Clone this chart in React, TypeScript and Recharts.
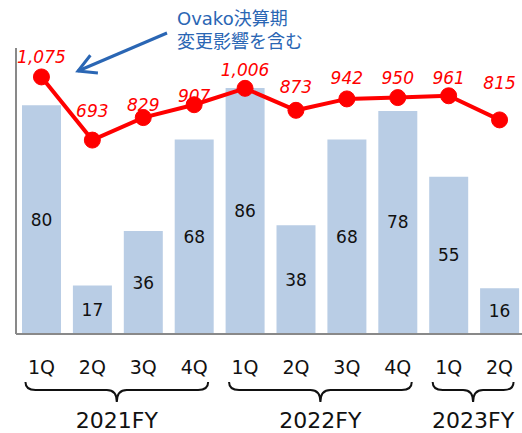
import React from "react";
import {
  ComposedChart,
  Bar,
  Line,
  XAxis,
  YAxis,
  LabelList,
  Customized,
} from "recharts";

const quarters = ["1Q", "2Q", "3Q", "4Q", "1Q", "2Q", "3Q", "4Q", "1Q", "2Q"];
const fiscalYears = [
  "2021FY", "2021FY", "2021FY", "2021FY",
  "2022FY", "2022FY", "2022FY", "2022FY",
  "2023FY", "2023FY",
];
const barValues = [80, 17, 36, 68, 86, 38, 68, 78, 55, 16];
const lineValues = [1075, 693, 829, 907, 1006, 873, 942, 950, 961, 815];

// how far above each dot its label sits (px), as placed in the original
const labelLift = [20, 29, 13, 9, 18, 23, 21, 20, 18, 37];

const data = quarters.map((q, i) => ({
  key: `${fiscalYears[i]}-${q}`,
  bar: barValues[i],
  line: lineValues[i],
}));

const W = 530;
const H = 433;
const MARGIN = { top: 48, right: 5, left: 14, bottom: 0 };
const Y_AXIS_W = 2;
const PLOT_W = W - MARGIN.left - Y_AXIS_W - MARGIN.right;
const FONT = "'DejaVu Sans', 'Noto Sans CJK JP', sans-serif";
const RED = "#ff0000";
const BLUE = "#2a66b4";
const AXIS = "#898989";

const QuarterTick = (props: any) => {
  const { x, y, index } = props;
  const pitch = PLOT_W / quarters.length;
  const fy = fiscalYears[index];
  const isFirst = fiscalYears.indexOf(fy) === index;
  let group = null;
  if (isFirst) {
    const n = fiscalYears.filter((f) => f === fy).length;
    const x0 = x - 16;
    const x1 = x + (n - 1) * pitch + 14;
    const xm = (x0 + x1) / 2;
    const top = y + 48;
    const mid = y + 56;
    const tip = y + 68;
    const d =
      `M${x0},${top} Q${x0},${mid} ${x0 + 10},${mid} L${xm - 10},${mid} ` +
      `Q${xm},${mid} ${xm},${tip} Q${xm},${mid} ${xm + 10},${mid} ` +
      `L${x1 - 10},${mid} Q${x1},${mid} ${x1},${top}`;
    group = (
      <g>
        <path d={d} fill="none" stroke="#111" strokeWidth={2} />
        <text
          x={xm}
          y={y + 94}
          textAnchor="middle"
          fontSize={22}
          fontFamily={FONT}
          fill="#111"
        >
          {fy}
        </text>
      </g>
    );
  }
  return (
    <g>
      <text
        x={x}
        y={y + 40}
        textAnchor="middle"
        fontSize={19}
        fontFamily={FONT}
        fill="#111"
      >
        {quarters[index]}
      </text>
      {group}
    </g>
  );
};

const renderLineLabel = (p: any) => (
  <text
    key={`ll-${p.index}`}
    x={p.x}
    y={p.y - labelLift[p.index] + 6}
    textAnchor="middle"
    fontSize={17}
    fontStyle="italic"
    fontFamily={FONT}
    fill={RED}
  >
    {Number(p.value).toLocaleString("en-US")}
  </text>
);

const Annotation = () => {
  const tip = { x: 78, y: 71 };
  const tail = { x: 167, y: 33 };
  const ang = Math.atan2(tail.y - tip.y, tail.x - tip.x);
  const arm = 20;
  const spread = 0.5;
  const a1 = {
    x: tip.x + arm * Math.cos(ang + spread),
    y: tip.y + arm * Math.sin(ang + spread),
  };
  const a2 = {
    x: tip.x + arm * Math.cos(ang - spread),
    y: tip.y + arm * Math.sin(ang - spread),
  };
  return (
    <g>
      <line x1={tail.x} y1={tail.y} x2={tip.x} y2={tip.y} stroke={BLUE} strokeWidth={3} />
      <polyline
        points={`${a1.x},${a1.y} ${tip.x},${tip.y} ${a2.x},${a2.y}`}
        fill="none"
        stroke={BLUE}
        strokeWidth={3}
      />
      <text x={177} y={25} fontSize={18} fontFamily={FONT} fill={BLUE}>
        Ovako決算期
      </text>
      <text x={177} y={48} fontSize={18} fontFamily={FONT} fill={BLUE}>
        変更影響を含む
      </text>
    </g>
  );
};

export default function App() {
  return (
    <div
      style={{
        position: "absolute",
        left: 0,
        top: 0,
        width: 522,
        height: 433,
        overflow: "hidden",
        background: "#fff",
      }}
    >
      <ComposedChart width={W} height={H} data={data} margin={MARGIN}>
        <XAxis
          dataKey="key"
          height={99}
          interval={0}
          tickLine={false}
          tickSize={0}
          tickMargin={0}
          axisLine={{ stroke: AXIS, strokeWidth: 2 }}
          tick={<QuarterTick />}
        />
        <YAxis
          yAxisId="bar"
          domain={[0, 100]}
          width={Y_AXIS_W}
          tick={false}
          tickLine={false}
          axisLine={{ stroke: AXIS, strokeWidth: 2 }}
        />
        <YAxis yAxisId="line" hide domain={[-480, 1250]} width={0} />
        <Bar
          yAxisId="bar"
          dataKey="bar"
          fill="#b9cde5"
          barSize={39}
          isAnimationActive={false}
        >
          <LabelList
            dataKey="bar"
            position="center"
            fill="#111"
            fontSize={17}
            fontFamily={FONT}
          />
        </Bar>
        <Line
          yAxisId="line"
          dataKey="line"
          stroke={RED}
          strokeWidth={4}
          dot={{ r: 8, fill: RED, stroke: RED, strokeWidth: 1 }}
          activeDot={false}
          label={renderLineLabel}
          isAnimationActive={false}
        />
        <Customized component={<Annotation />} />
      </ComposedChart>
    </div>
  );
}
